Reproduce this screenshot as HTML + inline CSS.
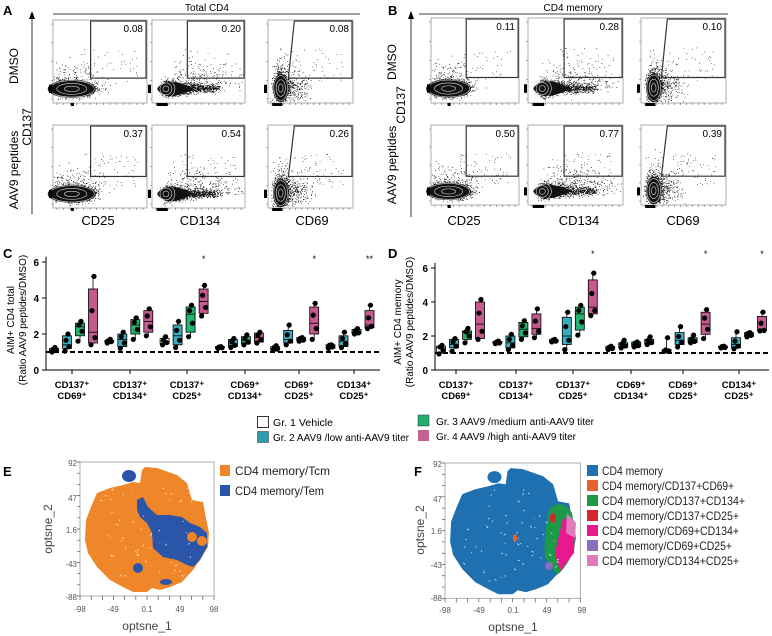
<!DOCTYPE html>
<html><head><meta charset="utf-8"><style>
html,body{margin:0;padding:0;background:#fff;}
svg{display:block;font-family:"Liberation Sans",Arial,sans-serif;}
</style></head><body>
<svg id="s" width="772" height="636" viewBox="0 0 772 636" xmlns="http://www.w3.org/2000/svg">
<g font-weight="bold" font-size="13">
<text x="3" y="15">A</text><text x="388" y="15">B</text>
<text x="3" y="258">C</text><text x="388" y="258">D</text>
<text x="3" y="476">E</text><text x="414" y="476">F</text>
</g>
<text x="207" y="11" font-size="10" text-anchor="middle">Total CD4</text>
<line x1="53" y1="14" x2="360" y2="14" stroke="#000" stroke-width="0.8"/>
<line x1="32" y1="18" x2="32" y2="214" stroke="#000" stroke-width="0.8"/>
<polygon points="32,11 29,19 35,19" fill="#000"/>
<text transform="translate(18,66) rotate(-90)" font-size="12" text-anchor="middle">DMSO</text>
<text transform="translate(31,127) rotate(-90)" font-size="12" text-anchor="middle">CD137</text>
<text transform="translate(18,170) rotate(-90)" font-size="12" text-anchor="middle">AAV9 peptides</text>
<text x="98" y="225" font-size="13" text-anchor="middle">CD25</text>
<text x="200" y="225" font-size="13" text-anchor="middle">CD134</text>
<text x="312" y="225" font-size="13" text-anchor="middle">CD69</text>
<text x="573" y="11" font-size="10" text-anchor="middle">CD4 memory</text>
<line x1="419" y1="14" x2="728" y2="14" stroke="#000" stroke-width="0.8"/>
<line x1="411" y1="18" x2="411" y2="217" stroke="#000" stroke-width="0.8"/>
<polygon points="411,11 408,19 414,19" fill="#000"/>
<text transform="translate(396,62) rotate(-90)" font-size="12" text-anchor="middle">DMSO</text>
<text transform="translate(405,105) rotate(-90)" font-size="12" text-anchor="middle">CD137</text>
<text transform="translate(396,165) rotate(-90)" font-size="12" text-anchor="middle">AAV9 peptides</text>
<text x="464" y="225" font-size="13" text-anchor="middle">CD25</text>
<text x="579" y="225" font-size="13" text-anchor="middle">CD134</text>
<text x="683" y="225" font-size="13" text-anchor="middle">CD69</text>
<g id="flow"></g>
<text transform="translate(14,320) rotate(-90)" font-size="10" text-anchor="middle">AIM+ CD4 total</text>
<text transform="translate(26,320) rotate(-90)" font-size="10" text-anchor="middle">(Ratio AAV9 peptides/DMSO)</text>
<text transform="translate(401,322) rotate(-90)" font-size="10" text-anchor="middle">AIM+ CD4 memory</text>
<text transform="translate(413,322) rotate(-90)" font-size="10" text-anchor="middle">(Ratio AAV9 peptides/DMSO)</text>
<g id="box"></g>
<g font-size="10">
<rect x="257.5" y="416.5" width="11" height="11" fill="#fff" stroke="#333"/><text x="273" y="426" textLength="60" lengthAdjust="spacingAndGlyphs">Gr. 1 Vehicle</text>
<rect x="257.5" y="431.5" width="11" height="11" fill="#2e9aaa" stroke="#333" stroke-width="0.5"/><text x="273" y="441" textLength="136" lengthAdjust="spacingAndGlyphs">Gr. 2 AAV9 /low anti-AAV9 titer</text>
<rect x="418" y="415" width="11" height="11" fill="#1fae6c" stroke="#333" stroke-width="0.5"/><text x="436" y="425" textLength="158" lengthAdjust="spacingAndGlyphs">Gr. 3 AAV9 /medium anti-AAV9 titer</text>
<rect x="418" y="430" width="11" height="11" fill="#c3628f"/><text x="436" y="440" textLength="140" lengthAdjust="spacingAndGlyphs">Gr. 4 AAV9 /high anti-AAV9 titer</text>
</g>
<g id="tsne"></g>
<g font-size="12" fill="#222">
<rect x="220" y="465" width="10" height="11" fill="#f0862a"/><text x="235" y="475" textLength="95" lengthAdjust="spacingAndGlyphs">CD4 memory/Tcm</text>
<rect x="220" y="485" width="10" height="11" fill="#2a55a8"/><text x="235" y="495" textLength="89" lengthAdjust="spacingAndGlyphs">CD4 memory/Tem</text>
<rect x="587" y="465" width="11" height="11" fill="#1f70b0"/><text x="602" y="475" textLength="61" lengthAdjust="spacingAndGlyphs">CD4 memory</text>
<rect x="587" y="480" width="11" height="11" fill="#e8602c"/><text x="602" y="490" textLength="132" lengthAdjust="spacingAndGlyphs">CD4 memory/CD137+CD69+</text>
<rect x="587" y="495" width="11" height="11" fill="#1c9a4a"/><text x="602" y="505" textLength="143" lengthAdjust="spacingAndGlyphs">CD4 memory/CD137+CD134+</text>
<rect x="587" y="510" width="11" height="11" fill="#d4262e"/><text x="602" y="520" textLength="137" lengthAdjust="spacingAndGlyphs">CD4 memory/CD137+CD25+</text>
<rect x="587" y="525" width="11" height="11" fill="#e8198c"/><text x="602" y="535" textLength="137" lengthAdjust="spacingAndGlyphs">CD4 memory/CD69+CD134+</text>
<rect x="587" y="540" width="11" height="11" fill="#8a6fbf"/><text x="602" y="550" textLength="130" lengthAdjust="spacingAndGlyphs">CD4 memory/CD69+CD25+</text>
<rect x="587" y="555" width="11" height="11" fill="#e07ab8"/><text x="602" y="565" textLength="137" lengthAdjust="spacingAndGlyphs">CD4 memory/CD134+CD25+</text>
</g>
<g font-size="8" fill="#555">
<text x="77" y="466" text-anchor="end">92</text><text x="77" y="501" text-anchor="end">47</text><text x="77" y="533" text-anchor="end">1.6</text><text x="77" y="567" text-anchor="end">-43</text><text x="77" y="600" text-anchor="end">-88</text>
<text x="80" y="612" text-anchor="middle">-98</text><text x="113" y="612" text-anchor="middle">-49</text><text x="147" y="612" text-anchor="middle">0.1</text><text x="180" y="612" text-anchor="middle">49</text><text x="214" y="612" text-anchor="middle">98</text>
<text x="442" y="467" text-anchor="end">92</text><text x="442" y="502" text-anchor="end">47</text><text x="442" y="534" text-anchor="end">1.6</text><text x="442" y="568" text-anchor="end">-43</text><text x="442" y="601" text-anchor="end">-88</text>
<text x="445" y="613" text-anchor="middle">-98</text><text x="479" y="613" text-anchor="middle">-49</text><text x="513" y="613" text-anchor="middle">0.1</text><text x="547" y="613" text-anchor="middle">49</text><text x="582" y="613" text-anchor="middle">98</text>
</g>
<g font-size="12" fill="#444">
<text x="147" y="630" text-anchor="middle">optsne_1</text>
<text transform="translate(52,529) rotate(-90)" text-anchor="middle">optsne_2</text>
<text x="513" y="631" text-anchor="middle">optsne_1</text>
<text transform="translate(424,530) rotate(-90)" text-anchor="middle">optsne_2</text>
</g>
</svg>
<script>
var NS="http://www.w3.org/2000/svg";
function el(p,t,a){var e=document.createElementNS(NS,t);for(var k in a)e.setAttribute(k,a[k]);p.appendChild(e);return e;}
var seed=7;function rnd(){seed=(seed*16807)%2147483647;return seed/2147483647;}
function gauss(){return (rnd()+rnd()+rnd()+rnd()-2)/1.15;}
var flow=document.getElementById('flow');
function fp(x0,y0,x1,y1,type,gb,num,g){
  var w=x1-x0,h=y1-y0;
  el(flow,'rect',{x:x0,y:y0,width:w,height:h,fill:'#fff',stroke:'#999','stroke-width':0.8});
  var d='';
  var cx,cy,rx,ry;
  if(type==0){cx=x0+0.2*w;cy=y0+0.83*h;rx=0.16*w;ry=0.06*h;}
  else if(type==1){cx=x0+0.15*w;cy=y0+0.83*h;rx=0.08*w;ry=0.08*h;}
  else {cx=x0+0.15*w;cy=y0+0.82*h;rx=0.06*w;ry=0.1*h;}
  for(var i=0;i<1500;i++){
    var px,py;
    if(type==0){px=cx+gauss()*rx*1.5;py=cy+gauss()*ry*1.6;if(rnd()<0.2){py-=rnd()*0.35*h*rnd();px+=gauss()*rx;}}
    else if(type==1){var t=rnd();px=cx+t*t*0.55*w+gauss()*rx*0.6;py=cy+gauss()*ry*(1-t*0.6)*1.4;if(rnd()<0.2){py-=rnd()*0.35*h*rnd();px+=rnd()*0.35*w;}}
    else {px=cx+gauss()*rx*1.4;py=cy+gauss()*ry*1.6;if(rnd()<0.3){px+=rnd()*0.4*w*rnd();}if(rnd()<0.2){py-=rnd()*0.4*h*rnd();}}
    if(px<x0+1||px>x1-1||py<y0+1||py>y1-1)continue;
    d+='M'+px.toFixed(1)+' '+py.toFixed(1)+'h0.8';
  }
  for(var i=0;i<g*35;i++){var px=x0+0.3*w+rnd()*0.6*w,py=y0+0.35*h+rnd()*0.4*h;d+='M'+px.toFixed(1)+' '+py.toFixed(1)+'h0.7';}
  el(flow,'path',{d:d,stroke:'#000','stroke-width':0.7,fill:'none'});
  if(type==0){el(flow,'ellipse',{cx:cx,cy:cy,rx:rx*1.6,ry:ry*1.8,fill:'#111'});for(var k=3;k>0;k--)el(flow,'ellipse',{cx:cx,cy:cy,rx:rx*0.5*k,ry:ry*0.55*k,fill:'none',stroke:'#ddd','stroke-width':0.6});}
  else if(type==1){el(flow,'path',{d:'M'+(cx-rx*1.2)+' '+cy+' Q'+cx+' '+(cy-ry*2.2)+' '+(cx+0.3*w)+' '+cy+' Q'+cx+' '+(cy+ry*2.2)+' '+(cx-rx*1.2)+' '+cy+'Z',fill:'#111'});for(var k=3;k>0;k--)el(flow,'ellipse',{cx:cx,cy:cy,rx:rx*0.4*k,ry:ry*0.45*k,fill:'none',stroke:'#ddd','stroke-width':0.6});}
  else {el(flow,'ellipse',{cx:cx,cy:cy,rx:rx*1.5,ry:ry*1.7,fill:'#111'});for(var k=3;k>0;k--)el(flow,'ellipse',{cx:cx,cy:cy,rx:rx*0.45*k,ry:ry*0.5*k,fill:'none',stroke:'#ddd','stroke-width':0.6});}
  var gby=y0+gb*h;
  if(type==0)el(flow,'rect',{x:x0+0.4*w,y:y0+1,width:0.59*w,height:gby-y0-1,fill:'none',stroke:'#333','stroke-width':1.2});
  else if(type==1)el(flow,'rect',{x:x0+0.38*w,y:y0+1,width:0.61*w,height:gby-y0-1,fill:'none',stroke:'#333','stroke-width':1.2});
  else el(flow,'polygon',{points:(x0+0.31*w)+','+(y0+1)+' '+(x1-1)+','+(y0+1)+' '+(x1-1)+','+gby+' '+(x0+0.24*w)+','+gby,fill:'none',stroke:'#333','stroke-width':1.2});
  var t=el(flow,'text',{x:x1-4,y:y0+12,'font-size':10,'text-anchor':'end'});t.textContent=num;
  var tk='';for(var i=0;i<5;i++){var yy=y0+4+i*(h-8)/4;tk+='M'+(x0-2)+' '+yy+'h2';}
  for(var i=0;i<14;i++){var xx=x0+4+i*(w-8)/13;tk+='M'+xx+' '+y1+'v2';}
  el(flow,'path',{d:tk,stroke:'#666','stroke-width':0.6});
  el(flow,'rect',{x:x0-4,y:y0+0.78*h,width:3,height:0.1*h,fill:'#000'});
  el(flow,'rect',{x:x0+(type==0?0.19:0.05)*w,y:y1,width:type==0?3:0.12*w,height:3,fill:'#000'});
}
var A=[[53,147],[152,245],[268,353]],B=[[431,519],[528,623],[641,726]];
var nA=[['0.08','0.20','0.08'],['0.37','0.54','0.26']],nB=[['0.11','0.28','0.10'],['0.50','0.77','0.39']];
var rows=[[20,103],[125,208]],rowsB=[[18,103],[125,205]];
for(var r=0;r<2;r++)for(var c=0;c<3;c++){
  fp(A[c][0],rows[r][0],A[c][1],rows[r][1],c,r==0?0.7:0.62,nA[r][c],r+1);
  fp(B[c][0],rowsB[r][0],B[c][1],rowsB[r][1],c,r==0?0.7:0.64,nB[r][c],r+1);
}
var box=document.getElementById('box');
var cols=['#fff','#3aaebf','#24b36f','#c45a8e'];
function chart(ax,x1,y0,ppu,first,sp,data,stars,stary,labx){
  function Y(v){return y0-v*ppu;}
  el(box,'line',{x1:ax,y1:Y(6.3),x2:ax,y2:y0,stroke:'#000','stroke-width':1});
  el(box,'line',{x1:ax,y1:y0,x2:x1,y2:y0,stroke:'#000','stroke-width':1});
  [0,2,4,6].forEach(function(v){el(box,'line',{x1:ax-4,y1:Y(v),x2:ax,y2:Y(v),stroke:'#000'});var t=el(box,'text',{x:ax-7,y:Y(v)+4,'font-size':10,'font-weight':'bold','text-anchor':'end'});t.textContent=v;});
  el(box,'line',{x1:ax,y1:Y(1),x2:x1,y2:Y(1),stroke:'#000','stroke-width':2,'stroke-dasharray':'5,3'});
  var labs=[['CD137⁺','CD69⁺'],['CD137⁺','CD134⁺'],['CD137⁺','CD25⁺'],['CD69⁺','CD134⁺'],['CD69⁺','CD25⁺'],['CD134⁺','CD25⁺']];
  for(var g=0;g<6;g++){
    var lx=labx[g];
    el(box,'line',{x1:lx,y1:y0,x2:lx,y2:y0+4,stroke:'#000'});
    for(var l=0;l<2;l++){var t=el(box,'text',{x:lx,y:y0+18+l*11,'font-size':9.5,'font-weight':'bold','text-anchor':'middle'});t.textContent=labs[g][l];}
    for(var k=0;k<4;k++){
      var dd=data[g][k];var x=first+g*sp+k*13;
      el(box,'line',{x1:x,y1:Y(dd[0]),x2:x,y2:Y(dd[4]),stroke:'#000','stroke-width':0.8});
      el(box,'line',{x1:x-2,y1:Y(dd[4]),x2:x+2,y2:Y(dd[4]),stroke:'#000','stroke-width':0.8});
      el(box,'rect',{x:x-4.5,y:Y(dd[3]),width:9,height:Math.max(1,Y(dd[1])-Y(dd[3])),fill:cols[k],stroke:'#000','stroke-width':0.8});
      el(box,'line',{x1:x-4.5,y1:Y(dd[2]),x2:x+4.5,y2:Y(dd[2]),stroke:'#000','stroke-width':0.8});
      var pts=[dd[0],(dd[1]+dd[2])/2,(dd[2]+dd[3])/2,dd[4]],jx=[-2,2,-1,1];
      pts.forEach(function(v,i){el(box,'circle',{cx:x+jx[i],cy:Y(v),r:2.6,fill:'#000'});});
    }
    if(stars[g]){var t=el(box,'text',{x:first+g*sp+39,y:stary,'font-size':9,'text-anchor':'middle'});t.textContent=stars[g];}
  }
}
var dC=[[[1,1.05,1.1,1.2,1.25],[1.05,1.2,1.4,1.9,2],[1.6,1.9,2.4,2.6,2.7],[1.4,1.5,2.1,4.5,5.2]],
[[1.5,1.55,1.6,1.65,1.7],[1.2,1.3,1.7,2,2.1],[1.7,2,2.5,2.8,2.9],[1.9,2.1,2.7,3.3,3.4]],
[[1.4,1.45,1.6,1.75,1.85],[1.25,1.4,1.9,2.5,2.7],[1.85,2.1,3.1,3.5,3.6],[3,3.15,3.8,4.5,4.7]],
[[1.2,1.22,1.25,1.3,1.3],[1.25,1.3,1.45,1.7,1.75],[1.4,1.45,1.65,1.85,1.95],[1.5,1.55,1.8,2.05,2.1]],
[[1.1,1.12,1.2,1.3,1.35],[1.4,1.5,1.7,2.2,2.5],[1.6,1.62,1.7,1.8,1.8],[1.7,2,2.6,3.5,3.7]],
[[1.2,1.22,1.35,1.4,1.4],[1.25,1.3,1.6,1.9,2.1],[2,2.02,2.1,2.25,2.3],[2.3,2.35,2.5,3.3,3.6]]];
var dD=[[[0.95,1,1.3,1.4,1.45],[1.1,1.3,1.5,1.8,1.85],[1.6,1.8,2.2,2.3,2.45],[1.8,1.85,2.7,4,4.15]],
[[1.55,1.57,1.6,1.68,1.7],[1.2,1.3,1.6,2,2.1],[1.8,1.95,2.4,2.8,2.9],[1.9,2.1,2.45,3.3,3.6]],
[[1.65,1.67,1.72,1.78,1.8],[1.2,1.5,2,3.1,3.4],[2.05,2.35,3.3,3.7,3.8],[3.2,3.3,3.7,5.3,5.7]],
[[1.2,1.22,1.3,1.38,1.4],[1.3,1.32,1.5,1.6,1.75],[1.35,1.37,1.5,1.65,1.65],[1.5,1.52,1.7,1.8,1.95]],
[[1.1,1.1,1.15,1.2,1.9],[1.35,1.5,1.75,2.2,2.55],[1.6,1.62,1.75,1.9,2.05],[1.85,2.1,2.7,3.4,3.55]],
[[1.3,1.3,1.35,1.4,1.4],[1.25,1.3,1.5,1.9,2.25],[1.95,1.97,2.1,2.2,2.2],[2.3,2.3,2.35,3.15,3.4]]];
chart(46,380,370,18,54,55.3,dC,['','','*','','*','**'],262,[72,130,187,245,299,354]);
chart(435,769,370,17,441,56.4,dD,['','','*','','*','*'],257,[456,516,573,631,683,739]);
var ts=document.getElementById('tsne');
var outline=[[65,5],[77,6],[97,13],[107,21],[112,38],[123,40],[125,51],[129,71],[128,85],[120,98],[113,108],[102,120],[90,125],[80,128],[72,126],[67,130],[53,130],[43,125],[30,118],[17,105],[8,91],[5,78],[6,58],[11,45],[17,31],[30,26],[43,23],[53,20],[60,21],[62,8]];
var blue=[[57,38],[63,35],[68,45],[77,53],[90,53],[102,55],[110,61],[120,65],[127,71],[127,85],[120,98],[113,105],[107,103],[97,98],[83,95],[73,86],[72,71],[67,61],[60,55],[57,48]];
function P(arr,ox,oy,sx,sy){return 'M'+arr.map(function(p){return (ox+p[0]*sx).toFixed(1)+' '+(oy+p[1]*sy).toFixed(1);}).join('L')+'Z';}
function tsne(ox,oy,s,main,isE){
  el(ts,'rect',{x:ox,y:oy,width:134*s,height:134*s,fill:'#fff',stroke:'#999','stroke-width':0.8});
  el(ts,'path',{d:P(outline,ox,oy,s,s),fill:main});
  if(isE){
    el(ts,'path',{d:P(blue,ox,oy,s,s),fill:'#2a55a8'});
    el(ts,'ellipse',{cx:ox+112*s,cy:oy+75*s,rx:5,ry:5,fill:'#f0862a'});
    el(ts,'ellipse',{cx:ox+122*s,cy:oy+79*s,rx:5,ry:5,fill:'#f0862a'});
    el(ts,'ellipse',{cx:ox+49*s,cy:oy+14*s,rx:7,ry:6,fill:'#2a55a8'});
    el(ts,'ellipse',{cx:ox+58*s,cy:oy+106*s,rx:5,ry:5,fill:'#2a55a8'});
    el(ts,'ellipse',{cx:ox+86*s,cy:oy+120*s,rx:6,ry:3,fill:'#2a55a8'});
  } else {
    el(ts,'ellipse',{cx:ox+49*s,cy:oy+14*s,rx:7,ry:6,fill:main});
    el(ts,'path',{d:'M'+(ox+105)+' '+(oy+45)+' Q'+(ox+118)+' '+(oy+35)+' '+(ox+127)+' '+(oy+50)+' L'+(ox+131)+' '+(oy+75)+' Q'+(ox+127)+' '+(oy+100)+' '+(ox+112)+' '+(oy+112)+' L'+(ox+100)+' '+(oy+95)+' Q'+(ox+98)+' '+(oy+70)+' '+(ox+105)+' '+(oy+45)+'Z',fill:'#1c9a4a'});
    el(ts,'path',{d:'M'+(ox+118)+' '+(oy+55)+' L'+(ox+130)+' '+(oy+60)+' L'+(ox+129)+' '+(oy+90)+' L'+(ox+115)+' '+(oy+108)+' L'+(ox+110)+' '+(oy+90)+'Z',fill:'#e8198c'});
    el(ts,'path',{d:'M'+(ox+122)+' '+(oy+50)+' L'+(ox+131)+' '+(oy+60)+' L'+(ox+130)+' '+(oy+75)+' L'+(ox+121)+' '+(oy+70)+'Z',fill:'#e07ab8'});
    el(ts,'ellipse',{cx:ox+108,cy:oy+55,rx:3,ry:5,fill:'#d4262e'});
    el(ts,'ellipse',{cx:ox+104,cy:oy+103,rx:4,ry:4,fill:'#8a6fbf'});
    el(ts,'ellipse',{cx:ox+70,cy:oy+75,rx:2,ry:4,fill:'#e8602c'});
  }
  var d='';for(var i=0;i<60;i++){var x=ox+20+rnd()*95,y=oy+25+rnd()*95;d+='M'+x.toFixed(1)+' '+y.toFixed(1)+'l'+(rnd()*4-2).toFixed(1)+' '+(rnd()*4-2).toFixed(1);}
  el(ts,'path',{d:d,stroke:'#fff','stroke-width':0.7,fill:'none'});
  var tk='';for(var i=0;i<=12;i++){tk+='M'+(ox+i*134*s/12)+' '+(oy+134*s)+'v4';tk+='M'+(ox-3)+' '+(oy+i*134*s/12)+'h3';}
  el(ts,'path',{d:tk,stroke:'#555','stroke-width':0.7});
}
tsne(80,462,1,'#f0862a',true);
tsne(445,463,1.01,'#1f70b0',false);
</script>
</body></html>
